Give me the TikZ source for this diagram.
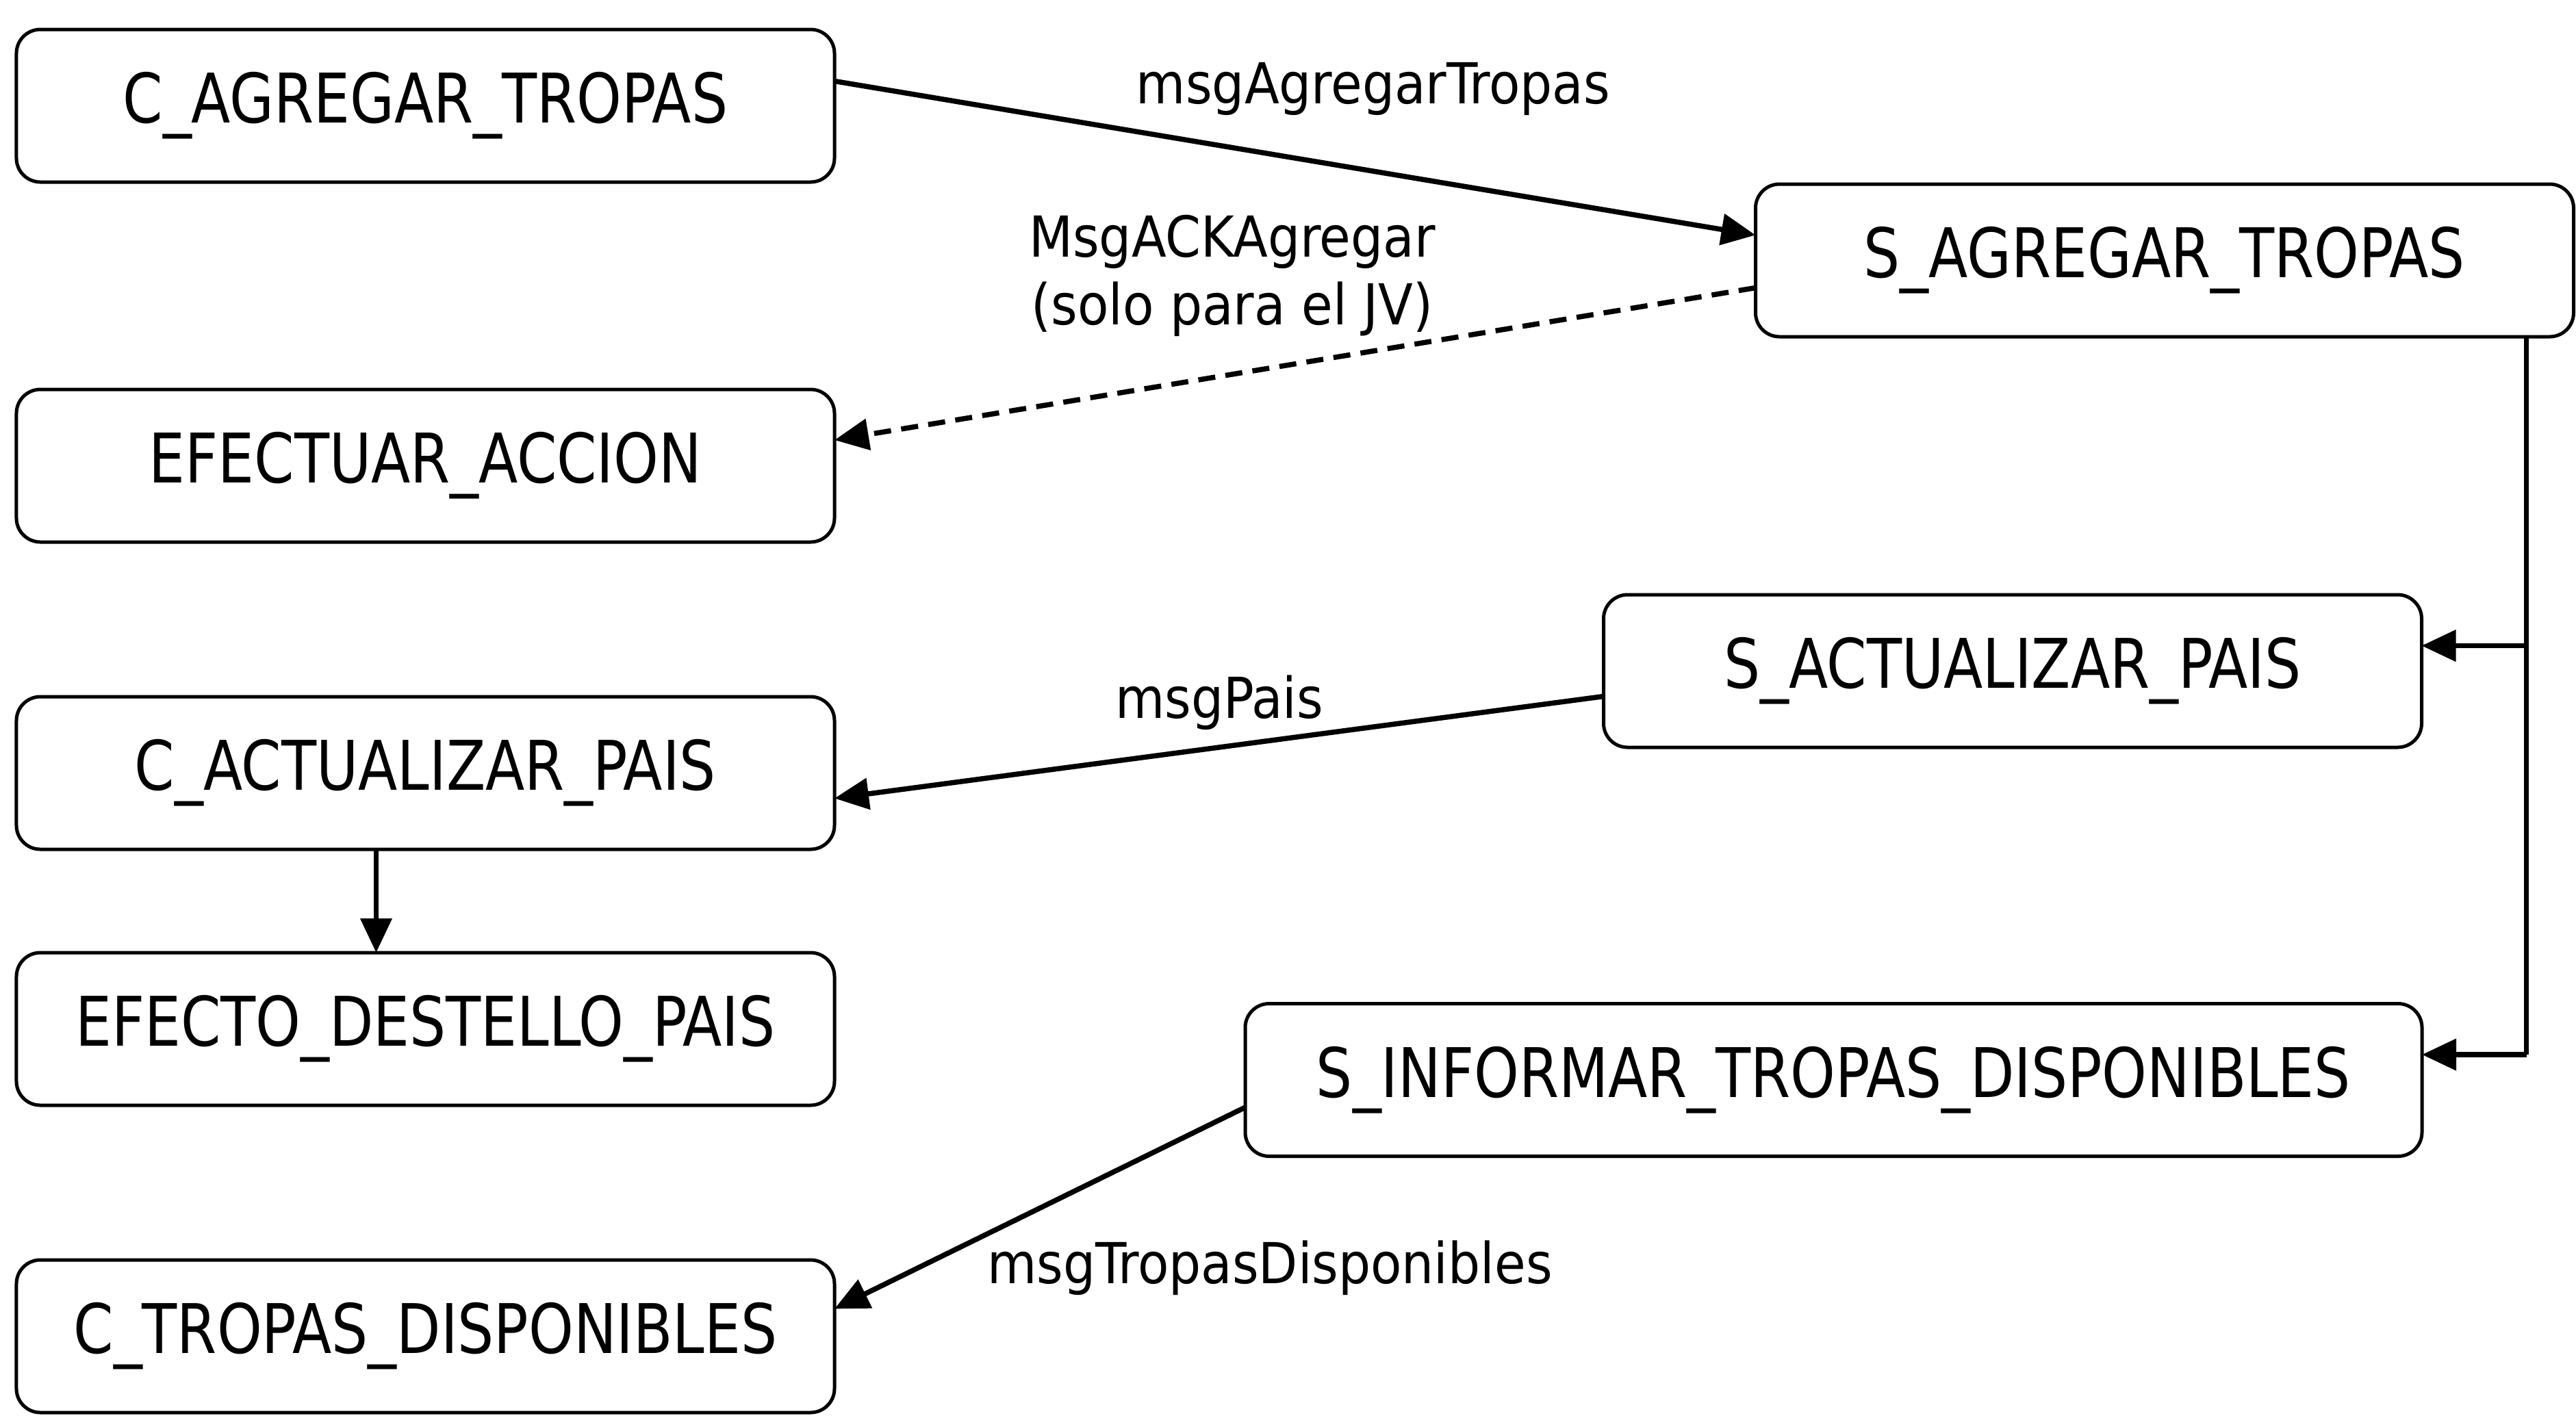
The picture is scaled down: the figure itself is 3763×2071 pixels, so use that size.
\documentclass[tikz,border=0pt]{standalone}
\usepackage{fontspec}
\setmainfont{DejaVu Sans Condensed}
\newfontfamily\boxfont[FakeStretch=0.93]{DejaVu Sans Condensed}
\usetikzlibrary{arrows.meta,calc}
\begin{document}
\begin{tikzpicture}[x=0.2pt,y=-0.2pt,
  box/.style={draw,line width=1pt,rounded corners=7pt,minimum width=239pt,minimum height=44.6pt,inner sep=0pt,outer sep=0pt,font=\boxfont\fontsize{20}{24}\selectfont},
  conn/.style={line width=1.5pt,-{Triangle[length=10pt,width=9pt]}},
  lbl/.style={inner sep=0pt,font=\fontsize{16.5}{19.7}\selectfont,align=center}]
\useasboundingbox (0,0) rectangle (3763,2071);
\node[box] (cat) at (621.5,154.5) {C\_AGREGAR\_TROPAS};
\node[box] (sat) at (3162,380.5) {S\_AGREGAR\_TROPAS};
\node[box] (ea) at (621.5,680.5) {EFECTUAR\_ACCION};
\node[box] (sap) at (2940,980.5) {S\_ACTUALIZAR\_PAIS};
\node[box] (cap) at (621.5,1129.5) {C\_ACTUALIZAR\_PAIS};
\node[box] (edp) at (621.5,1503.5) {EFECTO\_DESTELLO\_PAIS};
\node[box,minimum width=343.8pt] (sit) at (2678.5,1578) {S\_INFORMAR\_TROPAS\_DISPONIBLES};
\node[box] (ctd) at (621.5,1952.5) {C\_TROPAS\_DISPONIBLES};
\node[lbl] (l1) at (2006,130) {msgAgregarTropas};
\node[lbl] (l2) at (1800,403) {MsgACKAgregar\\(solo para el JV)};
\node[lbl] (l3) at (1781,1027) {msgPais};
\node[lbl] (l4) at (1855,1853) {msgTropasDisponibles};
\draw[conn] ([yshift=7.2pt]cat.east) -- ([yshift=7.4pt]sat.west);
\draw[conn,dashed,dash pattern=on 5pt off 3pt] ([yshift=-8pt]sat.west) -- ([yshift=7.5pt]ea.east);
\coordinate (tr) at ([xshift=-13.8pt]sat.south east);
\coordinate (b1) at ($(tr|-sap.east)+(0,-37)$);
\coordinate (b2) at ($(tr|-sit.east)+(0,-37)$);
\draw[line width=1.5pt] (tr) -- (b2);
\draw[conn] (b1) -- (b1-|sap.east);
\draw[conn] (b2) -- (b2-|sit.east);
\draw[conn] ([yshift=-7.4pt]sap.west) -- ([yshift=-7.4pt]cap.east);
\draw[conn] ([xshift=-14.4pt]cap.south) -- ([xshift=-14.4pt]edp.north);
\draw[conn] ([yshift=-8pt]sit.west) -- ([yshift=8pt]ctd.east);
\end{tikzpicture}
\end{document}
